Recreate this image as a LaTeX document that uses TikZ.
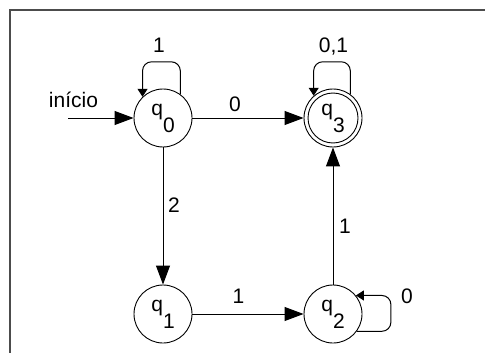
\documentclass[tikz,border=0pt]{standalone}
\usepackage{fontspec}
\setmainfont{Liberation Sans}
\usetikzlibrary{arrows.meta,calc}
\begin{document}
\begin{tikzpicture}[x=1pt,y=-1pt,
  every node/.style={font=\fontsize{21}{25}\selectfont},
  state/.style={circle,draw,line width=0.9pt,minimum size=58pt,inner sep=0pt},
  trans/.style={line width=1pt,-{Triangle[length=19pt,width=14pt]}},
  selfloop/.style={line width=1pt,rounded corners=9pt,-{Triangle[length=8pt,width=10pt]}},
  lbl/.style={anchor=base,inner sep=0pt},
  frame/.style={line width=2.5pt,draw=black!70}]
\useasboundingbox (0,0) rectangle (485,353);
% window frame
\draw[frame] (10,353) -- (10,10) -- (485,10);

% states
\newcommand{\stname}[1]{q\raisebox{-17pt}{#1}}
\node[state] (q0) at (163,118) {\stname{0}};
\node[state] (q3) at (333,118) {\stname{3}};
\node[state] (q1) at (163,314) {\stname{1}};
\node[state] (q2) at (333,314) {\stname{2}};
\draw[line width=0.9pt] (q3.center) circle (25pt);

% start arrow
\coordinate (start) at (68,118);
\node[lbl] (inicio) at (73.5,107) {início};
\draw[trans] (start) -- (q0.west);

% transitions
\draw[trans] (q0) -- (q3);
\draw[trans] (q0) -- (q1);
\draw[trans] (q1) -- (q2);
\draw[trans] (q2) -- (q3);
\node[lbl] (l03) at (235,112) {0};
\node[lbl] (l01) at (174,212) {2};
\node[lbl] (l12) at (238.5,303) {1};
\node[lbl] (l23) at (345,233) {1};

% self loops
\draw[selfloop] (q0.54) |- ($(q0.134)+(0,-35)$) -- (q0.134);
\node[lbl] (l00) at (159,53) {1};
\draw[selfloop] (q3.54) |- ($(q3.131)+(0,-34)$) -- (q3.131);
\node[lbl] (l33) at (333.5,53) {0,1};
\draw[selfloop] (q2.-36) -| ($(q2.39)+(35,0)$) -- (q2.39);
\node[lbl] (l22) at (407,303) {0};
\end{tikzpicture}
\end{document}
